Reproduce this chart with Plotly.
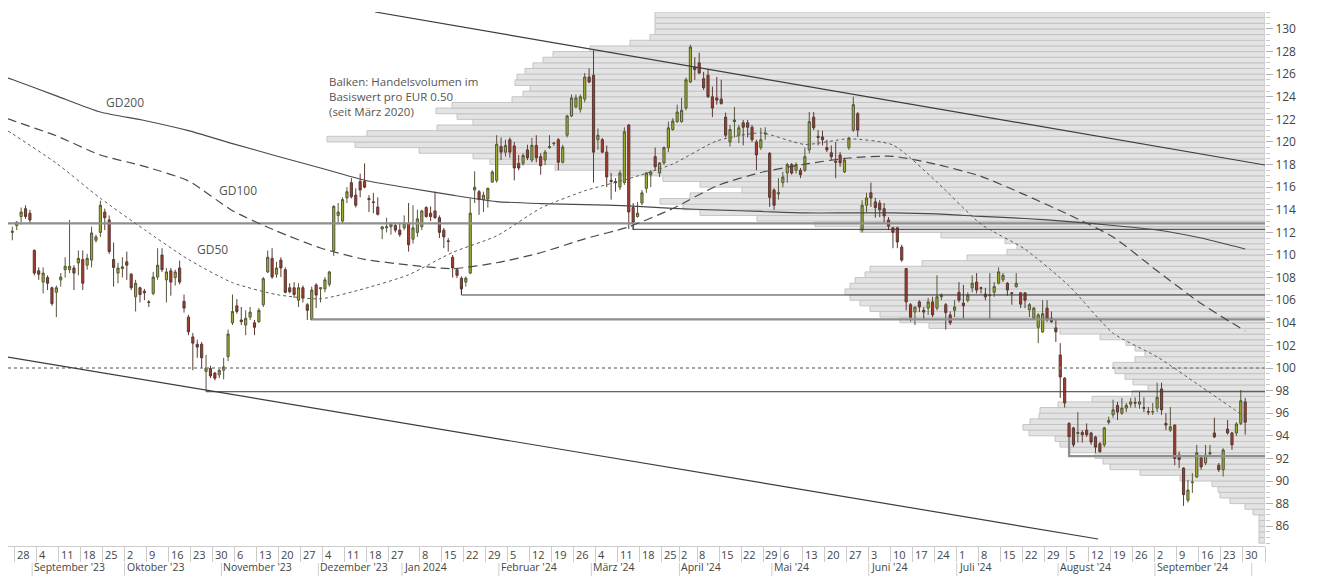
import plotly.graph_objects as go
import pandas as pd

# ---------------- calendar / categories ----------------
holidays = ["2023-12-25", "2023-12-26", "2024-01-01", "2024-03-29", "2024-04-01", "2024-05-01"]
trade_dates = [d.strftime("%Y-%m-%d") for d in pd.bdate_range("2023-08-25", "2024-09-30")
               if d.strftime("%Y-%m-%d") not in holidays]
pos = {d: i for i, d in enumerate(trade_dates)}

week_starts = ["2023-08-28", "2023-09-04", "2023-09-11", "2023-09-18", "2023-09-25", "2023-10-02",
               "2023-10-09", "2023-10-16", "2023-10-23", "2023-10-30", "2023-11-06", "2023-11-13",
               "2023-11-20", "2023-11-27", "2023-12-04", "2023-12-11", "2023-12-18", "2023-12-27",
               "2024-01-08", "2024-01-15", "2024-01-22", "2024-01-29", "2024-02-05", "2024-02-12",
               "2024-02-19", "2024-02-26", "2024-03-04", "2024-03-11", "2024-03-18", "2024-03-25",
               "2024-04-02", "2024-04-08", "2024-04-15", "2024-04-22", "2024-04-29", "2024-05-06",
               "2024-05-13", "2024-05-20", "2024-05-27", "2024-06-03", "2024-06-10", "2024-06-17",
               "2024-06-24", "2024-07-01", "2024-07-08", "2024-07-15", "2024-07-22", "2024-07-29",
               "2024-08-05", "2024-08-12", "2024-08-19", "2024-08-26", "2024-09-02", "2024-09-09",
               "2024-09-16", "2024-09-23", "2024-09-30"]
month_starts = ["2023-09-01", "2023-10-02", "2023-11-01", "2023-12-01", "2024-01-02", "2024-02-01",
                "2024-03-01", "2024-04-02", "2024-05-02", "2024-06-03", "2024-07-01", "2024-08-01",
                "2024-09-02"]
month_labels = ["September '23", "Oktober '23", "November '23", "Dezember '23", "Jan 2024",
                "Februar '24", "März '24", "April '24", "Mai '24", "Juni '24", "Juli '24",
                "August '24", "September '24"]
price_ticks = list(range(86, 131, 2))

# ---------------- OHLC ----------------
ohlc = [
(112.0,112.5,111.3,112.1),(112.6,113.0,112.2,112.9),(113.4,114.2,112.7,113.8),(114.1,114.4,113.2,113.4),
(113.7,114.0,112.8,113.1),(110.4,110.5,108.2,108.4),(108.6,108.9,107.8,108.3),(107.6,108.9,106.6,108.4),
(108.0,108.2,106.9,107.5),(107.1,107.2,105.5,105.7),(106.7,107.3,104.5,107.1),(107.8,108.4,107.2,108.05),
(108.7,109.8,108.0,109.0),(108.7,113.1,108.4,109.0),(108.85,109.1,106.9,108.4),(109.3,110.4,108.2,109.7),
(109.6,110.4,106.9,107.5),(109.1,110.1,108.7,109.7),(109.55,112.5,108.9,111.95),(111.3,111.8,111.1,111.6),
(112.0,114.8,111.6,114.4),(113.8,114.1,112.2,113.3),(113.1,113.5,110.1,110.3),(109.6,111.1,107.2,108.9),
(108.4,109.3,107.5,108.85),(108.8,109.8,108.0,108.95),(109.4,110.3,107.8,109.1),(108.3,108.4,106.9,107.1),
(106.3,107.8,105.0,107.5),(107.1,107.2,105.8,106.5),(106.8,107.0,106.0,106.65),(105.85,106.0,105.4,105.8),
(106.6,108.5,106.45,108.05),(108.05,110.6,107.8,109.1),(110.0,110.6,108.5,108.7),(107.8,108.85,105.8,108.5),
(108.6,108.85,106.4,107.6),(108.0,108.7,107.3,108.5),(108.85,109.5,107.4,107.6),(105.9,106.5,104.9,105.3),
(104.5,104.7,102.9,103.2),(102.75,103.1,99.8,102.2),(102.1,102.5,100.9,101.85),(102.1,102.3,100.0,100.9),
(99.7,101.15,97.9,100.0),(99.95,100.2,99.1,99.3),(99.55,99.65,98.9,99.1),(99.4,99.9,99.1,99.8),
(99.8,100.9,99.0,100.1),(101.0,103.4,100.6,103.0),(104.0,106.5,103.8,105.0),(105.5,106.1,104.8,105.0),
(104.25,105.4,103.8,104.1),(103.8,105.1,102.9,104.4),(104.5,105.4,104.25,104.95),(104.0,104.25,102.9,103.6),
(104.1,105.3,104.0,105.1),(105.6,108.05,105.4,107.9),(108.5,110.4,108.4,109.8),(109.7,110.6,107.9,108.05),
(108.3,109.4,108.0,108.85),(109.55,109.8,108.05,108.85),(108.7,108.9,106.6,106.7),(107.1,107.5,106.6,106.75),
(107.1,107.6,106.2,106.5),(106.0,107.5,105.4,107.1),(107.1,107.3,105.8,106.2),(105.6,105.75,104.25,105.1),
(104.3,107.2,104.2,106.9),(107.35,107.5,105.3,106.45),(107.0,107.1,105.8,107.1),(107.0,108.05,106.7,107.8),
(107.4,108.6,107.2,108.5),(110.4,114.4,109.9,114.3),(113.5,114.6,112.7,113.8),(113.0,115.1,112.8,114.9),
(115.05,116.0,114.6,115.6),(116.4,116.8,115.0,115.15),(115.3,115.9,114.2,114.4),(116.5,117.2,115.1,115.75),
(116.5,118.1,115.9,116.0),(115.0,115.3,113.8,114.9),(114.7,115.5,113.7,114.65),(114.25,115.1,113.5,113.6),
(112.3,112.5,111.4,112.5),(112.4,113.3,112.0,112.5),(112.5,112.9,111.8,112.75),(112.6,112.9,112.0,112.2),
(112.2,112.9,111.6,111.8),(112.4,113.5,112.2,112.8),(112.8,114.6,110.3,110.9),(111.4,114.4,111.0,112.4),
(112.0,114.0,111.6,113.2),(112.5,114.0,112.2,113.9),(114.2,114.3,113.3,113.4),(113.7,114.3,113.0,113.4),
(113.9,115.6,113.2,113.3),(113.3,113.5,111.5,112.0),(112.2,112.4,110.6,111.6),(111.25,111.5,110.3,111.2),
(109.8,110.0,108.0,108.85),(108.7,108.85,107.95,108.2),(107.95,108.1,106.55,107.0),(107.6,108.1,107.2,107.95),
(108.4,115.0,108.3,113.7),(115.75,117.4,114.6,116.0),(115.6,115.75,113.55,114.9),(114.9,115.6,113.8,115.3),
(114.95,115.95,114.2,115.9),(116.45,117.5,116.4,117.35),(116.6,120.6,116.4,119.8),(119.6,120.4,118.4,119.1),
(119.1,120.2,118.7,119.7),(120.2,120.4,118.6,119.1),(119.65,120.0,116.6,117.7),(118.1,118.85,117.5,117.7),
(118.1,119.0,117.9,118.8),(119.3,119.75,118.4,118.6),(118.4,120.35,118.2,119.7),(119.7,120.6,118.2,118.6),
(118.7,119.0,117.1,117.9),(118.4,119.3,117.95,119.1),(119.5,120.6,119.4,119.6),(119.85,120.0,119.65,119.9),
(120.2,120.35,117.5,118.2),(118.2,119.75,118.1,119.55),(120.6,122.4,120.4,122.3),(122.3,124.2,122.2,123.9),
(123.1,124.2,123.0,123.9),(122.9,124.2,122.6,124.0),(123.8,126.1,123.5,125.75),(125.75,126.5,125.2,125.3),
(125.9,128.1,116.4,119.1),(120.2,121.2,119.3,120.6),(120.2,120.35,119.0,119.1),(119.1,119.7,116.0,116.9),
(116.6,117.25,114.9,116.5),(116.5,116.8,115.6,116.4),(116.0,117.5,115.75,117.25),(116.4,121.3,116.2,120.9),
(121.5,121.6,112.3,113.8),(114.2,114.6,112.2,112.9),(113.4,114.7,113.3,113.7),(114.6,115.75,114.4,115.5),
(115.9,117.35,115.5,117.25),(117.1,117.5,116.0,117.35),(118.7,119.5,117.5,117.8),(117.25,118.2,116.9,118.15),
(118.15,119.6,118.0,119.5),(119.5,121.8,119.1,121.25),(121.1,122.1,121.0,121.85),(121.8,123.3,121.7,122.65),
(121.8,123.9,121.7,122.8),(123.0,125.7,122.8,125.5),(125.3,128.6,125.2,128.4),(126.6,127.5,125.5,126.4),
(127.0,127.9,126.0,126.1),(125.6,126.2,124.6,124.8),(125.9,126.4,123.9,124.0),(124.0,124.9,122.2,123.0),
(123.9,125.75,123.3,123.7),(123.8,125.5,123.3,123.4),(122.2,122.6,120.4,120.6),(120.0,121.5,119.6,121.1),
(121.8,123.1,120.4,121.95),(120.6,121.5,119.9,121.25),(121.7,121.95,119.7,121.3),(121.7,121.95,120.4,121.3),
(121.3,121.5,120.0,120.2),(120.0,120.2,117.5,118.85),(119.5,121.25,119.3,120.2),(120.7,121.3,120.2,120.8),
(119.0,119.1,114.25,115.1),(115.75,115.9,114.0,114.4),(115.4,116.8,114.9,115.5),(116.4,117.35,116.0,116.9),
(117.25,118.15,116.4,118.0),(118.0,118.15,117.1,117.25),(117.5,118.2,117.2,118.0),(117.5,117.7,116.8,117.1),
(117.5,119.5,117.35,118.7),(119.3,122.65,119.0,121.8),(122.2,122.65,121.05,121.25),(120.5,121.05,119.7,120.4),
(120.45,121.0,119.7,120.2),(119.5,120.2,119.1,119.3),(119.05,119.7,118.4,118.7),(118.3,120.0,116.8,118.2),
(118.85,119.1,117.8,118.15),(117.35,118.6,117.25,118.4),(119.5,120.45,119.3,120.35),(121.05,124.0,120.9,123.3),
(122.5,122.65,120.45,121.05),(112.2,114.85,112.0,114.4),(114.4,115.5,113.8,115.05),(115.5,116.4,114.25,115.05),
(114.7,115.05,113.3,114.2),(114.6,114.85,113.35,114.0),(114.1,114.6,112.9,113.45),(113.1,113.35,112.2,112.55),
(112.4,112.5,110.6,112.0),(112.4,112.5,110.6,111.15),(110.7,110.9,109.4,109.55),(108.8,108.8,105.1,105.85),
(105.6,105.75,104.1,104.5),(104.95,105.4,103.8,105.4),(105.85,106.0,104.95,105.4),(105.1,105.4,104.25,104.95),
(105.3,106.2,104.7,105.85),(105.85,106.3,104.5,104.7),(105.3,108.2,105.1,106.3),(106.3,106.6,106.0,106.45),
(105.6,105.75,103.4,104.9),(104.7,105.0,103.8,104.0),(105.1,106.0,104.5,105.4),(106.7,107.6,105.8,106.0),
(105.75,107.35,104.4,105.5),(106.0,106.7,105.8,106.45),(107.1,108.2,106.7,107.5),(107.6,108.4,106.6,106.9),
(107.1,107.2,106.6,107.05),(106.55,107.1,106.0,106.3),(106.4,108.4,104.25,106.45),(106.7,107.6,106.3,107.2),
(107.5,108.9,107.4,108.5),(107.8,108.4,107.6,108.2),(107.5,107.6,106.4,106.9),(106.65,106.7,105.6,106.6),
(107.2,108.4,107.1,107.5),(106.65,106.7,105.3,105.65),(106.65,106.7,105.3,106.0),(105.15,105.75,104.5,105.6),
(104.4,105.4,104.25,105.3),(103.6,104.85,102.2,104.7),(103.2,106.0,103.1,104.8),(105.3,106.0,104.1,104.25),
(104.4,105.0,104.0,104.1),(103.55,104.25,102.3,103.2),(101.15,102.2,97.35,99.2),(99.1,99.2,96.5,96.9),
(95.1,95.2,93.2,93.9),(94.7,94.8,93.0,93.2),(94.2,96.1,93.4,94.3),(94.3,94.5,93.4,94.1),
(94.5,95.1,93.9,94.1),(94.25,94.35,93.2,93.45),(93.9,94.0,92.5,93.0),(93.3,93.45,92.5,92.6),
(93.2,94.8,93.0,94.7),(95.2,95.7,95.0,95.35),(95.85,97.2,95.6,96.3),(96.7,97.0,95.4,96.1),
(96.0,97.35,95.85,96.45),(96.45,96.9,96.1,96.7),(96.8,97.35,96.5,97.0),(96.95,97.4,96.5,96.9),
(96.8,97.9,96.4,97.0),(96.5,97.4,96.1,96.45),(96.15,96.55,95.85,96.1),(96.1,96.9,95.85,96.15),
(96.45,98.7,96.1,97.4),(98.15,98.7,95.85,96.3),(95.1,96.0,94.5,94.95),(94.5,96.55,94.35,94.8),
(94.95,95.0,91.4,92.0),(92.3,92.6,91.15,91.9),(91.15,91.2,87.8,88.8),(88.3,90.1,88.1,89.2),
(89.85,90.7,88.95,89.9),(90.35,93.2,90.3,92.5),(92.05,92.3,91.0,91.25),(91.6,93.2,91.4,92.3),
(92.4,93.2,92.3,92.5),(94.25,95.6,93.8,93.9),(91.4,91.6,90.8,91.0),(91.0,92.9,90.4,92.75),
(94.6,95.4,94.1,94.25),(94.25,94.35,92.75,93.2),(94.25,95.2,94.0,95.05),(95.1,98.05,94.95,97.1),
(97.0,97.35,94.1,95.2)]
open_ = [r[0] for r in ohlc]
high = [r[1] for r in ohlc]
low = [r[2] for r in ohlc]
close = [r[3] for r in ohlc]

# ---------------- moving averages (read every 10 sessions) ----------------
ma_pos = [-1] + list(range(0, 281, 10))
gd200 = [125.66, 125.53, 124.08, 122.65, 121.9, 121.0, 119.86, 118.76, 117.7, 116.61, 115.93, 115.29,
         114.73, 114.55, 114.46, 114.34, 114.12, 113.98, 113.85, 113.72, 113.72, 113.72, 113.63, 113.41,
         113.23, 112.96, 112.61, 112.21, 111.5, 110.53]
gd100 = [122.04, 121.91, 120.54, 118.85, 117.84, 116.55, 113.92, 112.12, 110.62, 109.61, 109.12, 108.79,
         109.31, 110.2, 111.43, 112.49, 114.11, 116.12, 117.3, 118.04, 118.58, 118.73, 118.01, 116.96,
         115.32, 113.56, 111.59, 108.6, 105.7, 103.27]
gd50 = [120.97, 120.73, 118.12, 115.02, 112.24, 109.6, 107.55, 106.5, 106.12, 107.03, 108.25, 110.23,
        111.69, 114.14, 115.68, 116.75, 118.05, 120.09, 120.8, 119.78, 120.28, 119.73, 116.45, 112.73,
        110.51, 107.27, 103.08, 100.99, 98.35, 95.66]

# ---------------- volume profile (per EUR 0.50 bin) ----------------
vol_price = [84.75 + 0.5 * k for k in range(94)]
vol_amount = [0.6, 0.6, 0.6, 0.6, 0.6, 1.2, 2.0, 3.5, 4.5, 4.7, 5.3, 8.5, 12.5, 15.5, 16.2, 17.0, 19.5,
              20.5, 21.0, 23.6, 24.2, 23.5, 22.6, 22.5, 20.7, 17.3, 13.3, 11.7, 13.2, 14.0, 15.0, 15.2,
              13.0, 12.0, 13.0, 13.9, 16.5, 20.5, 33.6, 36.5, 38.5, 39.5, 40.5, 41.5, 42.0, 41.5, 41.0,
              40.0, 39.5, 34.3, 29.8, 25.8, 24.8, 26.0, 32.4, 40.5, 45.0, 50.8, 56.5, 58.2, 60.5, 57.5,
              52.3, 56.5, 60.2, 65.5, 71.0, 77.5, 79.2, 84.6, 91.0, 93.8, 89.8, 82.8, 79.2, 80.8, 82.9,
              81.3, 75.3, 74.2, 73.5, 75.0, 74.8, 74.0, 73.2, 72.2, 71.2, 67.5, 63.5, 61.5, 61.0, 61.0,
              61.0, 61.0]

# ---------------- support lines and trend lines ----------------
X0, X1 = -0.98, 284.5
support_level = [112.8, 112.27, 106.46, 104.31, 97.9, 92.2]
support_from = [None, "2024-03-14", "2024-01-19", "2023-11-29", "2023-10-26", "2024-08-05"]
support_hook = [None, 112.65, 107.2, None, None, 93.9]
support_dark = [False, True, True, False, True, False]
trend_upper = ([82.4, X1], [131.5, 117.96])
trend_lower = ([X0, 246.6], [100.97, 84.87])

FONT = "Open Sans"
fig = go.Figure()

fig.add_trace(go.Bar(y=vol_price, x=vol_amount, orientation="h", width=0.5,
                     marker=dict(color="#e3e3e3", line=dict(color="#c4c4c4", width=1)),
                     xaxis="x", yaxis="y", hoverinfo="skip"))

for lvl, frm, hook, dark in zip(support_level, support_from, support_hook, support_dark):
    xs0 = X0 if frm is None else pos[frm]
    xs, ys = [xs0, X1], [lvl, lvl]
    if hook is not None:
        xs, ys = [xs0] + xs, [hook] + ys
    fig.add_trace(go.Scatter(x=xs, y=ys, mode="lines", xaxis="x2", yaxis="y", hoverinfo="skip",
                             line=dict(color="#3a3a3a" if dark else "#8e8e8e",
                                       width=1 if dark else 2.2)))

fig.add_trace(go.Scatter(x=[X0, X1], y=[100, 100], mode="lines", xaxis="x2", yaxis="y",
                         line=dict(color="#8a8a8a", width=1.5, dash="3px,3px"), hoverinfo="skip"))

for tx, ty in (trend_upper, trend_lower):
    fig.add_trace(go.Scatter(x=tx, y=ty, mode="lines", xaxis="x2", yaxis="y", hoverinfo="skip",
                             line=dict(color="#3c3c3c", width=1.2)))

fig.add_trace(go.Scatter(x=ma_pos, y=gd200, mode="lines", xaxis="x2", yaxis="y",
                         line=dict(color="#4a4a4a", width=1.2, shape="spline", smoothing=0.6),
                         hoverinfo="skip"))
fig.add_trace(go.Scatter(x=ma_pos, y=gd100, mode="lines", xaxis="x2", yaxis="y",
                         line=dict(color="#4a4a4a", width=1.2, dash="9px,5px", shape="spline",
                                   smoothing=0.6), hoverinfo="skip"))
fig.add_trace(go.Scatter(x=ma_pos, y=gd50, mode="lines", xaxis="x2", yaxis="y",
                         line=dict(color="#5a5a5a", width=1, dash="3px,3px", shape="spline",
                                   smoothing=0.6), hoverinfo="skip"))

fig.add_trace(go.Candlestick(
    x=list(range(len(trade_dates))), open=open_, high=high, low=low, close=close,
    xaxis="x2", yaxis="y",
    increasing=dict(line=dict(color="#55573a", width=1), fillcolor="#a0b028"),
    decreasing=dict(line=dict(color="#5a3a34", width=1), fillcolor="#a83a2c"),
    whiskerwidth=0, hoverinfo="skip"))

week_ticks = [pos[w] - 0.5 for w in week_starts] + [X1]
annotations = []
for w in week_starts:
    annotations.append(dict(x=pos[w] - 0.5, xref="x2", y=0, yref="paper", yanchor="top",
                            xanchor="left", xshift=1, yshift=0, borderpad=0, showarrow=False,
                            text=str(int(w[8:])), font=dict(family=FONT, size=11, color="#444")))
shapes = []
for m, lab in zip(month_starts, month_labels):
    annotations.append(dict(x=pos[m] - 0.5, xref="x2", y=-30 / 534, yref="paper", yanchor="bottom",
                            xanchor="left", xshift=1, yshift=1, borderpad=0, showarrow=False,
                            text=lab, font=dict(family=FONT, size=10.5, color="#444")))
for xv in [pos[m] - 0.5 for m in month_starts] + [281.5]:
    shapes.append(dict(type="line", xref="x2", yref="paper", x0=xv, x1=xv,
                       y0=-17 / 534, y1=-30 / 534, line=dict(color="#cccccc", width=1)))

for txt, xv, yv in [("GD200", 25.6, 123.5), ("GD100", 51.3, 115.75), ("GD50", 45.4, 110.45)]:
    annotations.append(dict(x=xv, y=yv, xref="x2", yref="y", text=txt, showarrow=False,
                            font=dict(family=FONT, size=12, color="#555")))
annotations.append(dict(x=71.4, y=126.15, xref="x2", yref="y", xanchor="left", yanchor="top",
                        align="left", showarrow=False,
                        text="Balken: Handelsvolumen im<br>Basiswert pro EUR 0.50<br>(seit März 2020)",
                        font=dict(family=FONT, size=11.5, color="#555")))

fig.update_layout(
    width=1335, height=576, margin=dict(l=8, r=70, t=12, b=30),
    paper_bgcolor="white", plot_bgcolor="white", showlegend=False,
    font=dict(family=FONT, size=11.5, color="#444"),
    xaxis=dict(range=[125.7, 0], visible=False, fixedrange=True, rangeslider=dict(visible=False)),
    xaxis2=dict(overlaying="x", anchor="y", side="bottom", range=[X0, X1], showgrid=False,
                zeroline=False, showline=True, linecolor="#cccccc", linewidth=1,
                ticks="outside", ticklen=15, tickcolor="#cccccc", tickwidth=1,
                tickvals=week_ticks, showticklabels=False, rangeslider=dict(visible=False)),
    yaxis=dict(range=[84.25, 131.5], side="right", showgrid=False, zeroline=False, showline=False,
               tickvals=price_ticks, ticktext=[str(v) for v in price_ticks],
               ticks="outside", ticklen=7, tickcolor="#b0b0b0",
               minor=dict(dtick=0.5, tick0=0, ticks="outside", ticklen=4, tickcolor="#c8c8c8"),
               tickfont=dict(family=FONT, size=12, color="#444")),
    annotations=annotations, shapes=shapes,
)

fig.write_html("out.html")
